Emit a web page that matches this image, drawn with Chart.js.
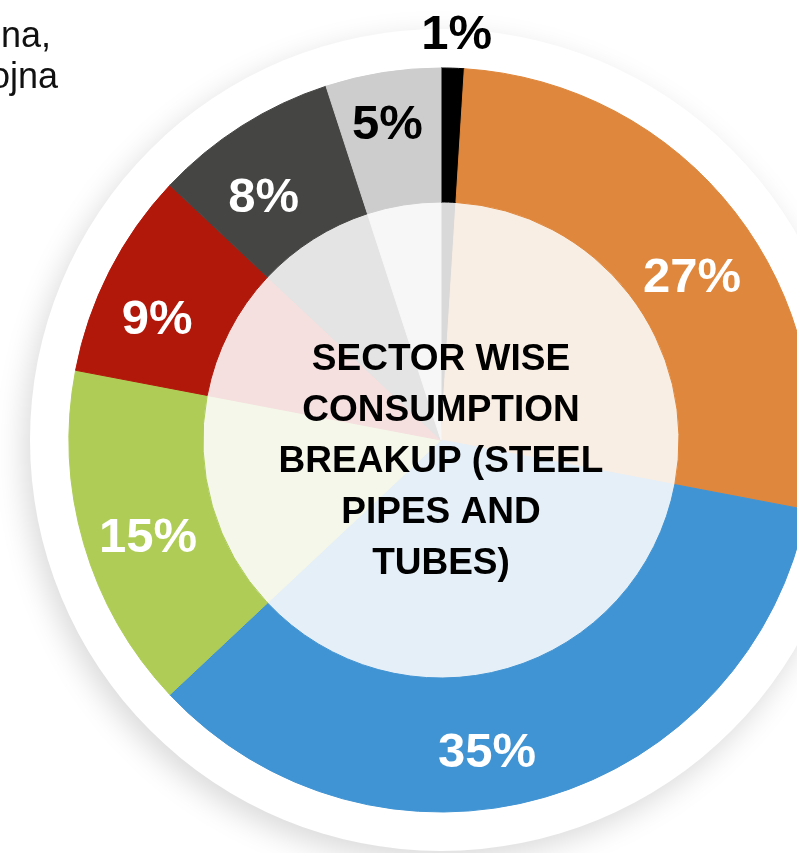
<!DOCTYPE html>
<html>
<head>
<meta charset="utf-8">
<script src="https://cdn.jsdelivr.net/npm/chart.js@4/dist/chart.umd.min.js"></script>
<style>
  html, body { margin: 0; padding: 0; width: 797px; height: 853px; overflow: hidden; background: #fff; }
  #wrap { position: absolute; left: 0; top: 0; width: 882px; height: 880px; }
  .note { position: absolute; font-family: "Liberation Sans", Arial, sans-serif; font-size: 36px; line-height: 36px; color: #111; white-space: nowrap; }
</style>
</head>
<body>
<div id="wrap"><canvas id="sectorwise" width="882" height="880"></canvas></div>
<div class="note" style="left:1px; top:17px;">na,</div>
<div class="note" style="left:-10px; top:58px;">ojna</div>

<script>
const sectors = ['Sector 1', 'Sector 2', 'Sector 3', 'Sector 4', 'Sector 5', 'Sector 6', 'Sector 7'];
const shares = [1, 27, 35, 15, 9, 8, 5];
const centerTitle = ['SECTOR WISE', 'CONSUMPTION', 'BREAKUP (STEEL', 'PIPES AND', 'TUBES)'];

const sliceColors = ['#000000', '#DF873C', '#4194D3', '#AECC56', '#B1180A', '#454544', '#CDCDCD'];
const tintColors = ['#D9D9D9', '#F9EEE4', '#E5EFF8', '#F4F7E9', '#F5E0DF', '#E4E4E4', '#F7F7F7'];
const labelColors = ['#000', '#fff', '#fff', '#fff', '#fff', '#fff', '#000'];
// hand placement of the % labels, as in the original slide
const labelShift = [[3, -2], [10, 22], [-39, 17], [0, 10], [-12, 15], [-14, 13], [-6, -17]];

// white disc with soft shadow behind the ring
const ringBacking = {
  id: 'ringBacking',
  beforeDatasetsDraw(chart) {
    const p = chart.getDatasetMeta(0).data[0].getProps(['x', 'y', 'outerRadius'], true);
    const ctx = chart.ctx;
    ctx.save();
    ctx.beginPath();
    ctx.arc(p.x, p.y, p.outerRadius + 39, 0, Math.PI * 2);
    ctx.shadowColor = 'rgba(0,0,0,0.15)';
    ctx.shadowBlur = 30;
    ctx.shadowOffsetX = -6;
    ctx.shadowOffsetY = 10;
    ctx.fillStyle = '#fff';
    ctx.fill();
    ctx.restore();
  }
};

const sliceLabels = {
  id: 'sliceLabels',
  afterDatasetsDraw(chart) {
    const ctx = chart.ctx;
    const meta = chart.getDatasetMeta(0);
    ctx.save();
    ctx.textAlign = 'center';
    ctx.textBaseline = 'alphabetic';
    ctx.font = 'bold 49px "Liberation Sans", Arial, sans-serif';
    meta.data.forEach(function(arc, i) {
      const p = arc.getProps(['x', 'y', 'startAngle', 'endAngle', 'innerRadius', 'outerRadius'], true);
      const mid = (p.startAngle + p.endAngle) / 2;
      let r = (p.innerRadius + p.outerRadius) / 2;
      if (shares[i] < 3) r = p.outerRadius + 34;
      const lx = p.x + Math.cos(mid) * r + labelShift[i][0];
      const ly = p.y + Math.sin(mid) * r + labelShift[i][1];
      ctx.fillStyle = labelColors[i];
      ctx.fillText(shares[i] + '%', lx, ly + 17);
    });

    // title in the middle
    const c = meta.data[0].getProps(['x', 'y'], true);
    ctx.fillStyle = '#000';
    ctx.font = 'bold 37px "Liberation Sans", Arial, sans-serif';
    centerTitle.forEach(function(line, i) {
      ctx.fillText(line, c.x, c.y - 70 + i * 51);
    });
    ctx.restore();
  }
};

const ctx = document.getElementById('sectorwise').getContext('2d');
const sectorwise = new Chart(ctx, {
  type: 'doughnut',
  data: {
    labels: sectors,
    datasets: [{
      label: 'Share',
      data: shares,
      backgroundColor: sliceColors,
      borderColor: sliceColors,
      borderWidth: 1,
      hoverOffset: 0,
      weight: 134
    }, {
      label: 'Share (inner)',
      data: shares,
      backgroundColor: tintColors,
      borderColor: tintColors,
      borderWidth: 1,
      hoverOffset: 0,
      weight: 238
    }]
  },
  options: {
    responsive: false,
    animation: false,
    events: [],
    cutout: 0,
    radius: 372,
    plugins: {
      legend: { display: false },
      tooltip: { enabled: false }
    }
  },
  plugins: [ringBacking, sliceLabels]
});
</script>
</body>
</html>
